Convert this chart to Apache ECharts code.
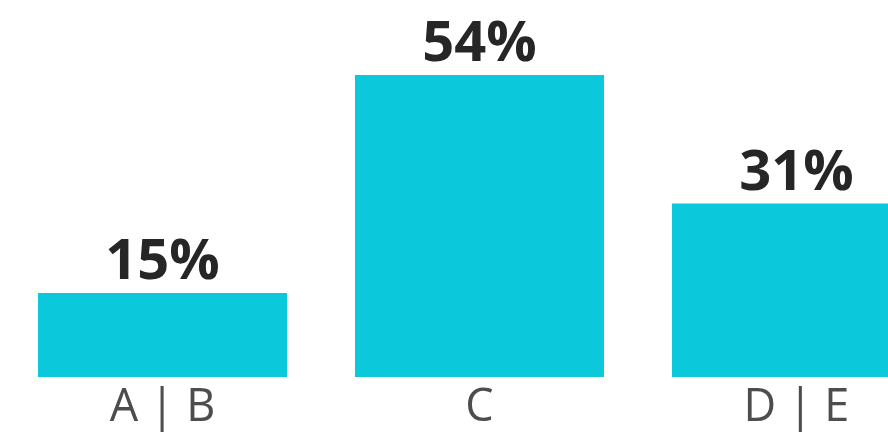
<!DOCTYPE html>
<html>
<head>
<meta charset="utf-8">
<script src="https://cdn.jsdelivr.net/npm/echarts@6/dist/echarts.min.js"></script>
<style>
html,body{margin:0;padding:0;background:#fff;}
#chart{width:888px;height:435px;}
</style>
</head>
<body>
<div id="chart"></div>
<script>
const categories = ['A | B', 'C', 'D | E'];
const values = [15, 54, 31];

const chart = echarts.init(document.getElementById('chart'));
chart.setOption({
  animation: false,
  backgroundColor: '#ffffff',
  grid: { left: 4, right: -67, top: 41.4, bottom: 58, containLabel: false, outerBoundsMode: 'none' },
  xAxis: {
    type: 'category',
    data: categories,
    axisLine: { show: false },
    axisTick: { show: false },
    axisLabel: {
      margin: 9,
      fontFamily: 'Open Sans',
      fontWeight: 400,
      fontSize: 45,
      color: '#4d4d4d',
      interval: 0,
      hideOverlap: false
    }
  },
  yAxis: {
    type: 'value',
    min: 0,
    max: 60,
    show: false,
    splitLine: { show: false }
  },
  series: [{
    type: 'bar',
    data: values,
    barWidth: 249,
    itemStyle: { color: '#0cc8db' },
    label: {
      show: true,
      position: 'top',
      distance: 2,
      formatter: '{c}%',
      fontFamily: 'Open Sans',
      fontWeight: 700,
      fontSize: 56,
      color: '#262626'
    }
  }]
});
</script>
</body>
</html>
